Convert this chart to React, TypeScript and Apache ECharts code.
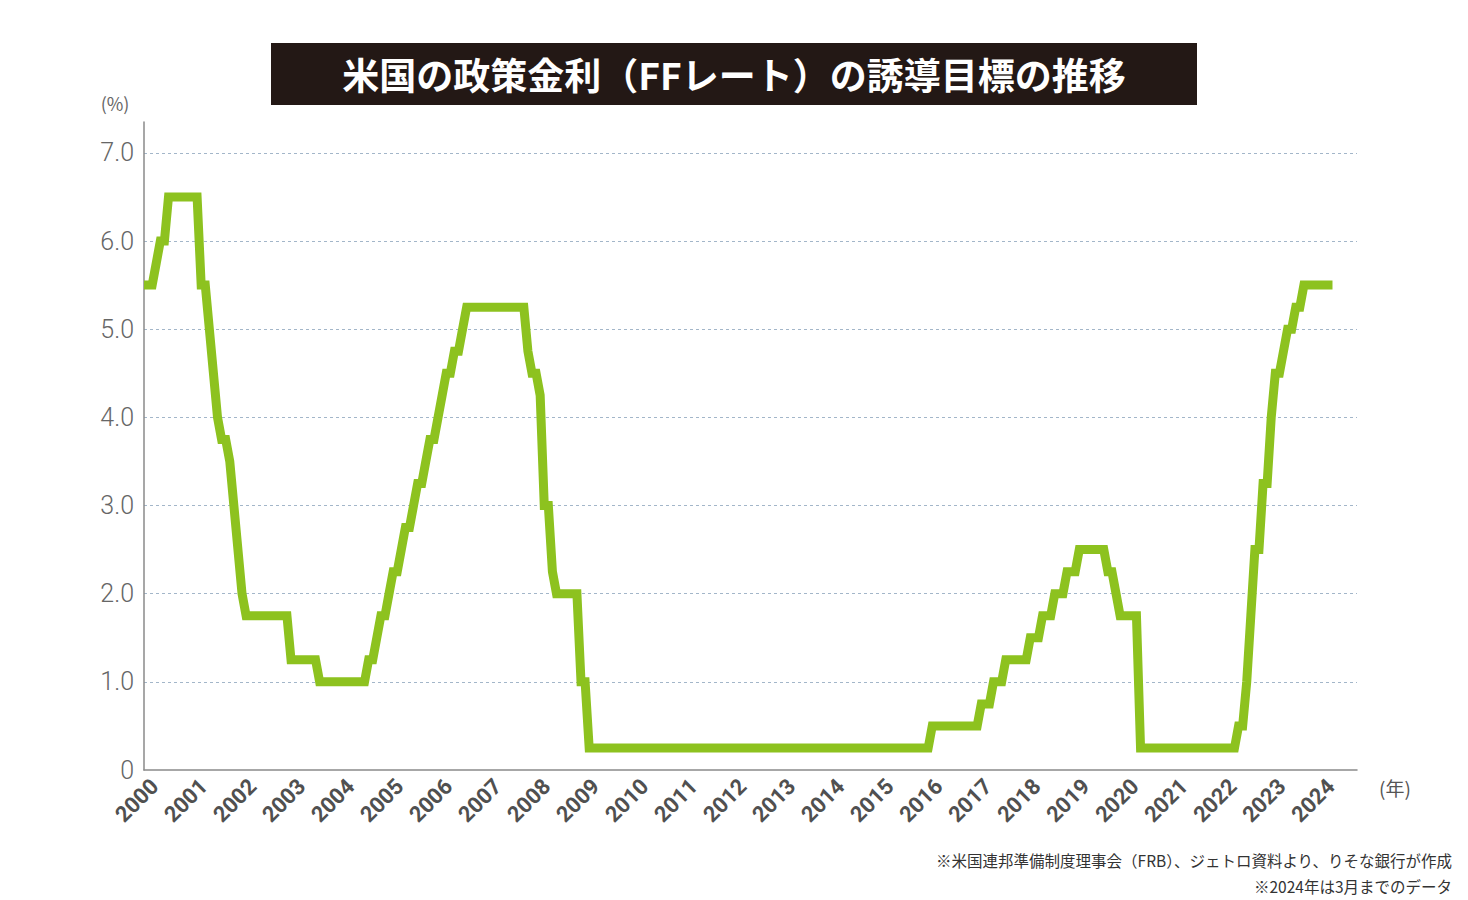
import React, { useEffect, useRef } from "react";
import * as echarts from "echarts";

const chartTitle = "米国の政策金利（FFレート）の誘導目標の推移";
const yUnitLabel = "(%)";
const xUnitLabel = "(年)";
const notes = [
  "※米国連邦準備制度理事会（FRB）、ジェトロ資料より、りそな銀行が作成",
  "※2024年は3月までのデータ",
];

// Vertices of the FF target line: month and the target (upper bound, %) at the start of that month
const rateMonths = [
  "1999-12",
  "2000-01", "2000-02", "2000-03", "2000-04", "2000-05", "2000-06",
  "2001-01", "2001-02", "2001-03", "2001-04", "2001-05", "2001-06",
  "2001-07", "2001-08", "2001-09", "2001-10", "2001-11", "2001-12",
  "2002-01", "2002-11", "2002-12", "2003-06", "2003-07",
  "2004-06", "2004-07", "2004-08", "2004-09", "2004-10", "2004-11", "2004-12",
  "2005-01", "2005-02", "2005-03", "2005-04", "2005-05", "2005-06",
  "2005-07", "2005-08", "2005-09", "2005-10", "2005-11", "2005-12",
  "2006-01", "2006-02", "2006-03", "2006-04", "2006-05", "2006-06", "2006-07",
  "2007-09", "2007-10", "2007-11", "2007-12",
  "2008-01", "2008-02", "2008-03", "2008-04", "2008-05", "2008-10", "2008-11", "2008-12",
  "2009-01", "2015-12", "2016-01", "2016-12",
  "2017-01", "2017-03", "2017-04", "2017-06", "2017-07", "2017-12",
  "2018-01", "2018-03", "2018-04", "2018-06", "2018-07", "2018-09", "2018-10", "2018-12",
  "2019-01", "2019-07", "2019-08", "2019-09", "2019-10", "2019-11",
  "2020-03", "2020-04", "2022-03", "2022-04", "2022-05", "2022-06", "2022-07",
  "2022-08", "2022-09", "2022-10", "2022-11", "2022-12",
  "2023-01", "2023-02", "2023-03", "2023-04", "2023-05", "2023-06", "2023-07", "2023-08",
  "2024-03",
];
const rateValues = [
  5.5,
  5.5, 5.5, 5.75, 6.0, 6.0, 6.5,
  6.5, 5.5, 5.5, 5.0, 4.5, 4.0,
  3.75, 3.75, 3.5, 3.0, 2.5, 2.0,
  1.75, 1.75, 1.25, 1.25, 1.0,
  1.0, 1.25, 1.25, 1.5, 1.75, 1.75, 2.0,
  2.25, 2.25, 2.5, 2.75, 2.75, 3.0,
  3.25, 3.25, 3.5, 3.75, 3.75, 4.0,
  4.25, 4.5, 4.5, 4.75, 4.75, 5.0, 5.25,
  5.25, 4.75, 4.5, 4.5,
  4.25, 3.0, 3.0, 2.25, 2.0, 2.0, 1.0, 1.0,
  0.25, 0.25, 0.5, 0.5,
  0.75, 0.75, 1.0, 1.0, 1.25, 1.25,
  1.5, 1.5, 1.75, 1.75, 2.0, 2.0, 2.25, 2.25,
  2.5, 2.5, 2.25, 2.25, 2.0, 1.75,
  1.75, 0.25, 0.25, 0.5, 0.5, 1.0, 1.75,
  2.5, 2.5, 3.25, 3.25, 4.0,
  4.5, 4.5, 4.75, 5.0, 5.0, 5.25, 5.25, 5.5,
  5.5,
];

const xMinYear = 2000;
const xMaxYear = 2024.75;
const yMax = 7.35;

// plotted at the end of the month on a decimal-year axis
function monthToYear(m: string): number {
  const [y, mo] = m.split("-").map(Number);
  return y + mo / 12;
}

export default function App() {
  const ref = useRef<HTMLDivElement>(null);
  useEffect(() => {
    if (!ref.current) return;
    const chart = echarts.init(ref.current, undefined, { renderer: "svg" });
    const data = rateMonths.map((m, i) => [monthToYear(m), rateValues[i]]);
    chart.setOption({
      animation: false,
      backgroundColor: "#ffffff",
      grid: { left: 144, right: 111, top: 122, bottom: 130, containLabel: false },
      xAxis: {
        type: "value",
        min: xMinYear,
        max: xMaxYear,
        interval: 1,
        axisLine: { show: true, lineStyle: { color: "#8a8a8a", width: 1.5 } },
        axisTick: { show: false },
        splitLine: { show: false },
        axisLabel: {
          rotate: 45,
          margin: 2,
          verticalAlign: "top",
          padding: [4, 0, 0, 0],
          color: "#505050",
          fontFamily: "Roboto",
          fontWeight: "bold",
          fontSize: 22,
          showMaxLabel: false,
          formatter: (v: number) => (Number.isInteger(v) ? String(v) : ""),
        },
      },
      yAxis: {
        type: "value",
        min: 0,
        max: yMax,
        interval: 1,
        axisLine: { show: true, lineStyle: { color: "#8a8a8a", width: 1.5 } },
        axisTick: { show: false },
        splitLine: {
          show: true,
          showMinLine: false,
          showMaxLine: false,
          lineStyle: { color: "#a3b6c9", type: [3, 3], width: 1 },
        },
        axisLabel: {
          margin: 10,
          color: "#666666",
          fontFamily: "Roboto",
          fontWeight: 300,
          fontSize: 25,
          showMaxLabel: false,
          formatter: (v: number) =>
            Number.isInteger(v) ? (v === 0 ? "0" : v.toFixed(1)) : "",
        },
      },
      series: [
        {
          type: "line",
          data,
          showSymbol: false,
          symbol: "none",
          lineStyle: { color: "#8dc21f", width: 9, join: "miter" },
          z: 3,
        },
      ],
      graphic: [
        {
          type: "rect",
          shape: { x: 271, y: 43, width: 926, height: 62 },
          style: { fill: "#231815" },
        },
        {
          type: "text",
          x: 734,
          y: 74,
          style: {
            text: chartTitle,
            fill: "#ffffff",
            font: 'bold 37px "Noto Sans CJK JP"',
            textAlign: "center",
            textVerticalAlign: "middle",
          },
        },
        {
          type: "text",
          x: 115,
          y: 103,
          style: {
            text: yUnitLabel,
            fill: "#666666",
            font: '18px "Noto Sans CJK JP"',
            textAlign: "center",
            textVerticalAlign: "middle",
          },
        },
        {
          type: "text",
          x: 1395,
          y: 787,
          style: {
            text: xUnitLabel,
            fill: "#555555",
            font: '19px "Noto Sans CJK JP"',
            textAlign: "center",
            textVerticalAlign: "middle",
          },
        },
        {
          type: "text",
          x: 1452,
          y: 860,
          style: {
            text: notes[0],
            fill: "#333333",
            font: '15.5px "Noto Sans CJK JP"',
            textAlign: "right",
            textVerticalAlign: "middle",
          },
        },
        {
          type: "text",
          x: 1452,
          y: 886,
          style: {
            text: notes[1],
            fill: "#333333",
            font: '15.5px "Noto Sans CJK JP"',
            textAlign: "right",
            textVerticalAlign: "middle",
          },
        },
      ],
    });
    return () => chart.dispose();
  }, []);
  return (
    <div
      ref={ref}
      style={{ position: "absolute", left: 0, top: 0, width: 1468, height: 900 }}
    />
  );
}
